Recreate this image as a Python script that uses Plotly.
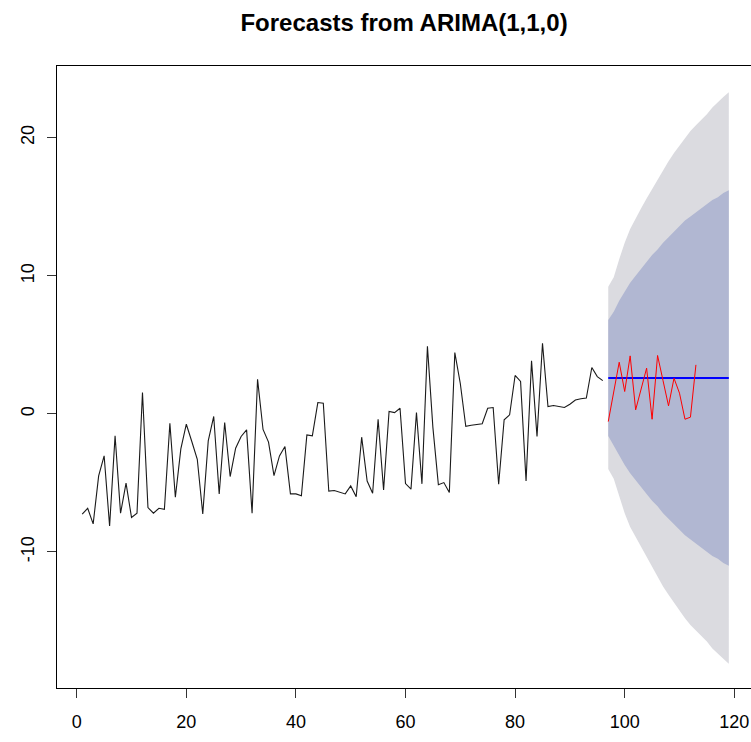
import plotly.graph_objects as go

# observed series (t = 1..96)
obs_values = [-7.27, -6.84, -7.97, -4.49, -3.04, -8.12, -1.59, -7.2, -5.02, -7.51,
              -7.2, 1.55, -6.79, -7.2, -6.84, -6.91, -0.68, -6.04, -2.54, -0.75,
              -2.0, -3.29, -7.25, -1.96, -0.19, -5.8, -0.63, -4.54, -2.49, -1.64,
              -1.16, -7.2, 2.5, -1.13, -2.05, -4.48, -3.05, -2.37, -5.8, -5.8,
              -5.94, -1.52, -1.59, 0.82, 0.77, -5.6, -5.55, -5.65, -5.8, -5.22,
              -6.0, -1.69, -4.87, -5.75, -0.39, -5.51, 0.17, 0.09, 0.41, -5.05,
              -5.45, 0.1, -5.07, 4.9, -1.0, -5.14, -4.98, -5.7, 4.44, 2.2,
              -0.9, -0.82, -0.76, -0.72, 0.4, 0.46, -5.1, -0.43, -0.07, 2.78,
              2.35, -4.86, 3.84, -1.64, 5.12, 0.53, 0.6, 0.55, 0.46, 0.7,
              1.0, 1.1, 1.15, 3.36, 2.7, 2.41]
obs_t = list(range(1, len(obs_values) + 1))

# forecast horizon (t = 97..119)
fc_t = list(range(97, 120))
fc_mean = [2.6] * 23
half80 = [4.2, 4.8, 5.6, 6.3, 6.9, 7.4, 7.9, 8.4, 8.9, 9.3, 9.8, 10.2,
          10.6, 11.0, 11.4, 11.7, 12.0, 12.3, 12.6, 12.9, 13.1, 13.4, 13.6]
half95 = [6.6, 7.3, 8.6, 9.8, 10.8, 11.6, 12.3, 13.0, 13.7, 14.4, 15.1, 15.7,
          16.3, 16.85, 17.4, 17.9, 18.3, 18.7, 19.1, 19.6, 20.0, 20.35, 20.7]

# actual test values (t = 97..113)
test_t = list(range(97, 114))
test_values = [-0.56, 1.6, 3.74, 1.62, 4.2, 0.29, 1.8, 3.31, -0.39, 4.23,
               2.4, 0.58, 2.58, 1.5, -0.39, -0.24, 3.55]

x_ticks = [0, 20, 40, 60, 80, 100, 120]
y_ticks = [-10, 0, 10, 20]
y_tick_text = ["-10", "0", "10", "20"]

hi95 = [m + h for m, h in zip(fc_mean, half95)]
lo95 = [m - h for m, h in zip(fc_mean, half95)]
hi80 = [m + h for m, h in zip(fc_mean, half80)]
lo80 = [m - h for m, h in zip(fc_mean, half80)]

fig = go.Figure()
fig.add_trace(go.Scatter(x=fc_t + fc_t[::-1], y=hi95 + lo95[::-1], fill="toself",
                         fillcolor="#DBDBE0", line=dict(width=0), mode="lines",
                         hoverinfo="skip", showlegend=False))
fig.add_trace(go.Scatter(x=fc_t + fc_t[::-1], y=hi80 + lo80[::-1], fill="toself",
                         fillcolor="#B1B7D2", line=dict(width=0), mode="lines",
                         hoverinfo="skip", showlegend=False))
fig.add_trace(go.Scatter(x=obs_t, y=obs_values, mode="lines",
                         line=dict(color="#1a1a1a", width=1.1), showlegend=False))
fig.add_trace(go.Scatter(x=fc_t, y=fc_mean, mode="lines",
                         line=dict(color="#0000FF", width=2), showlegend=False))
fig.add_trace(go.Scatter(x=test_t, y=test_values, mode="lines",
                         line=dict(color="#FF0000", width=1), showlegend=False))

font_family = "Liberation Sans, Arial, sans-serif"
fig.update_layout(
    width=751, height=742,
    margin=dict(l=57, r=0, t=66, b=54),
    paper_bgcolor="white", plot_bgcolor="white",
    title=dict(text="<b>Forecasts from ARIMA(1,1,0)</b>", xref="container", yref="container",
               x=0.538, y=0.970, xanchor="center", yanchor="middle",
               font=dict(family=font_family, size=24, color="black")),
    font=dict(family=font_family, size=18, color="black"),
    xaxis=dict(range=[-3.6, 123.05], tickmode="array", tickvals=x_ticks,
               showgrid=False, zeroline=False, showline=True, linecolor="black",
               linewidth=1, mirror=True, ticks="outside", ticklen=9, tickcolor="#333",
               tickfont=dict(family=font_family, size=18, color="black"),
               ticklabelstandoff=8),
    yaxis=dict(range=[-19.86, 25.2], tickmode="array", tickvals=y_ticks,
               ticktext=y_tick_text, tickangle=-90,
               showgrid=False, zeroline=False, showline=True, linecolor="black",
               linewidth=1, mirror=False, ticks="outside", ticklen=9, tickcolor="#333",
               tickfont=dict(family=font_family, size=18, color="black"),
               ticklabelstandoff=6),
)

fig.write_html("out.html")
